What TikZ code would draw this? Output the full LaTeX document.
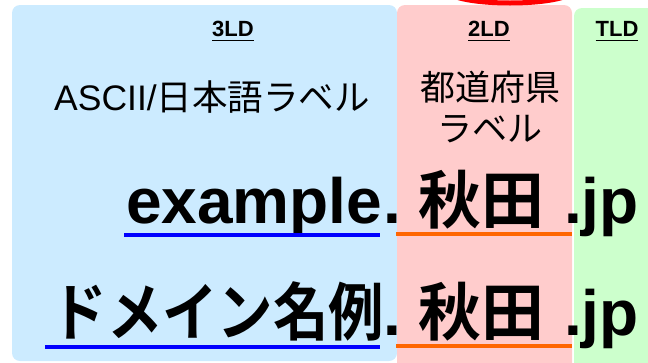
\documentclass[tikz,border=0pt]{standalone}
\usepackage{fontspec}
\usepackage{graphicx}
\setmainfont{Liberation Sans}
\newfontfamily\jp{Noto Sans CJK JP}[BoldFont={Noto Sans CJK JP Bold}]
\definecolor{pblue}{RGB}{204,235,255}
\definecolor{ppink}{RGB}{255,204,204}
\definecolor{pgreen}{RGB}{204,255,204}
\definecolor{ulblue}{RGB}{0,0,255}
\definecolor{ulorange}{RGB}{255,102,0}
\begin{document}
\begin{tikzpicture}[x=1pt,y=-1pt,
  every node/.style={inner sep=0pt, outer sep=0pt},
  hdr/.style={font=\bfseries\fontsize{22}{22}\selectfont, anchor=base},
  big/.style={font=\bfseries\fontsize{64}{64}\selectfont, anchor=base west},
  jbig/.style={font=\jp\bfseries\fontsize{63}{63}\selectfont},
  hul/.style={line width=1.5pt},
  ublue/.style={ulblue, line width=4.5pt},
  uorange/.style={ulorange, line width=4.5pt}]
\useasboundingbox (0,0) rectangle (648,362);
\clip (0,0) rectangle (648,362);
% panels
\fill[pblue, rounded corners=8pt] (12,5) rectangle (397,361);
\fill[ppink, rounded corners=8pt] (397,5) rectangle (572,390);
\fill[pgreen, rounded corners=8pt] (574,8) rectangle (680,390);
% red mark at top
\draw[red, line width=5pt] (510,-9) ellipse [x radius=62, y radius=12];
% headers
\node[hdr] (h3) at (233,36) {3LD};
\node[hdr] (h2) at (489,36) {2LD};
\node[hdr] (ht) at (617,36) {TLD};
\foreach \n in {h3,h2,ht}
  \draw[hul] ([yshift=-4.5pt]\n.base west) -- ([yshift=-4.5pt]\n.base east);
% descriptions
\node[font=\fontsize{35.5}{35.5}\selectfont] (asc) at (212,97) {ASCII/{\jp 日本語ラベル}};
\node[align=center, font=\jp\fontsize{35}{41}\selectfont] (pref) at (490,107) {都道府県\\ラベル};
% row 1
\node[big] (ex) at (126,223) {example};
\node[big] (d1) at (383,223) {.};
\node[jbig] (ak1) at (481,200) {秋田};
\node[big] (jp1) at (564,223) {.jp};
% row 2
\node[jbig] (dom) at (218,311) {\scalebox{0.88}[1]{ドメイン名例}};
\node[big] (d2) at (383,335) {.};
\node[jbig] (ak2) at (481,312) {秋田};
\node[big] (jp2) at (564,335) {.jp};
% underlines
\draw[ublue] (124,235) -- (380,235);
\draw[uorange] (396,234) -- (572,234);
\draw[ublue] (45,347) -- (380,347);
\draw[uorange] (396,346) -- (572,346);
\end{tikzpicture}
\end{document}
